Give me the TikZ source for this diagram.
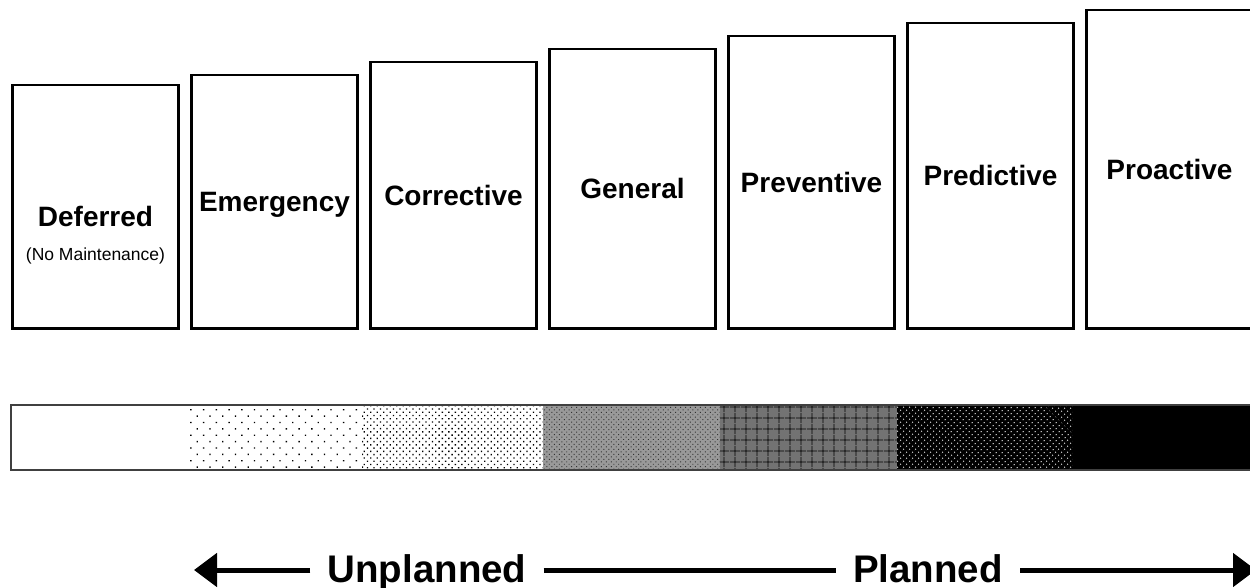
\documentclass[tikz,border=0pt]{standalone}
\usepackage{fontspec}
\setmainfont{Liberation Sans}
\usepackage{tikz}
\usetikzlibrary{arrows.meta,patterns.meta,positioning}

\tikzset{
  kindbox/.style={draw, line width=2.6pt, minimum width=166pt, inner sep=0pt,
    anchor=south, font=\fontsize{28}{30}\selectfont\bfseries,
    text height=20pt, text depth=0pt},
  bigword/.style={inner xsep=17pt, inner ysep=0pt, text height=27pt, text depth=3pt,
    font=\fontsize{38.5}{40}\selectfont\bfseries},
  scale line/.style={line width=5pt}
}

\begin{document}
\begin{tikzpicture}[x=1pt, y=-1pt]
  \useasboundingbox (0,0) rectangle (1250,588);
  \clip (0,0) rectangle (1250,588);

  \foreach \i/\top/\txt in {0/85/{}, 1/75/Emergency, 2/62/Corrective, 3/49/General,
                            4/36/Preventive, 5/23/Predictive, 6/10/Proactive}
    \node[kindbox, minimum height=328-\top pt] (box\i) at (95.5+179*\i,329.5) {\txt};

  \node[font=\fontsize{28}{30}\selectfont\bfseries, text height=20pt, text depth=0pt,
        inner sep=0pt] (defer) at ([yshift=-10pt]box0.center) {Deferred};
  \node[font=\fontsize{17.5}{19}\selectfont, inner sep=0pt, anchor=base]
    (nomaint) at ([yshift=-34pt]defer.base) {(No Maintenance)};

  \fill[white] (11,405) rectangle (188,470);
  \fill[pattern={Dots[distance=9pt, radius=0.95pt, angle=45]}, pattern color=black]
    (188,405) rectangle (363,470);
  \fill[pattern={Dots[distance=4.6pt, radius=0.9pt, angle=45]}, pattern color=black]
    (363,405) rectangle (543,470);
  \fill[black!40] (543,405) rectangle (720,470);
  \fill[pattern={Dots[distance=3.5pt, radius=0.7pt, angle=45]}, pattern color=black!80]
    (543,405) rectangle (720,470);
  \fill[black!55] (720,405) rectangle (897,470);
  \fill[pattern={Hatch[distance=10.5pt, line width=0.9pt]}, pattern color=black]
    (720,405) rectangle (897,470);
  \fill[black] (897,405) rectangle (1073,470);
  \fill[pattern={Dots[distance=4pt, radius=0.8pt, angle=45]}, pattern color=white!80!black]
    (897,405) rectangle (1073,470);
  \fill[black] (1073,405) rectangle (1252,470);
  \draw[black!75, line width=2pt] (1252,405) -- (11,405) -- (11,470) -- (1252,470);

  \node[bigword] (unpl) at (427,570) {Unplanned};
  \node[bigword] (plan) at (928,570) {Planned};
  \coordinate (ltip) at (194,570);
  \coordinate (rtip) at (1256,570);
  \draw[scale line, -{Triangle[length=23pt, width=33pt]}] (unpl) -- (ltip);
  \draw[scale line] (unpl) -- (plan);
  \draw[scale line, -{Triangle[length=23pt, width=33pt]}] (plan) -- (rtip);
\end{tikzpicture}
\end{document}
